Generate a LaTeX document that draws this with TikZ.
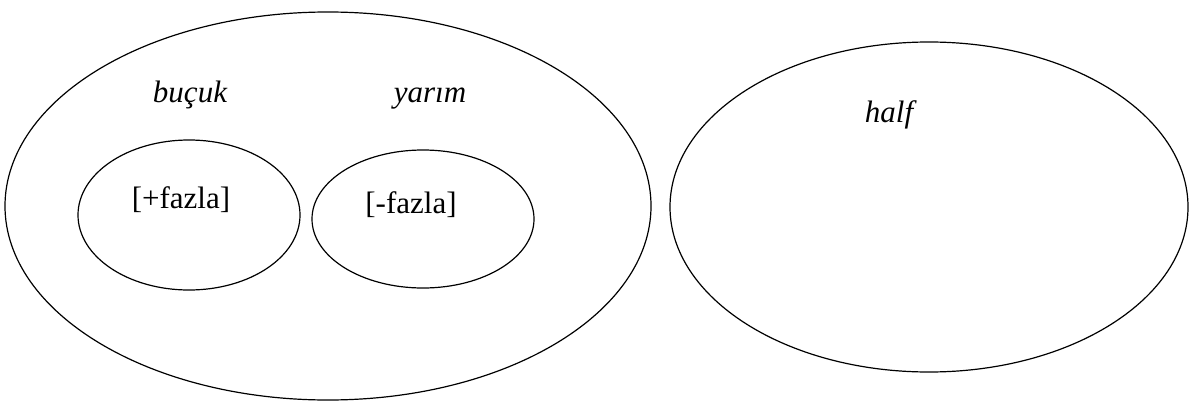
\documentclass[tikz,border=0pt]{standalone}
\usepackage{fontspec}
\setmainfont{Liberation Serif}
\begin{document}
\begin{tikzpicture}[x=1pt,y=-1pt,
  ell/.style={draw=black,line width=1.2pt},
  lbl/.style={font=\fontsize{31}{37}\selectfont,anchor=base,inner sep=0pt},
  ilbl/.style={lbl,font=\fontsize{31}{37}\selectfont\itshape}]
\useasboundingbox (0,0) rectangle (1190,404);
\draw[ell] (328,206) ellipse [x radius=323, y radius=194];
\draw[ell] (929,207) ellipse [x radius=259, y radius=165];
\draw[ell] (189,215) ellipse [x radius=111, y radius=75];
\draw[ell] (423,219) ellipse [x radius=111, y radius=69];
\node[ilbl] (bucuk) at (190,102) {buçuk};
\node[ilbl] (yarim) at (430,102) {yarım};
\node[ilbl] (half) at (889,122) {half};
\node[lbl] (plus) at (181,208) {[+fazla]};
\node[lbl] (minus) at (411,213) {[-fazla]};
\end{tikzpicture}
\end{document}
